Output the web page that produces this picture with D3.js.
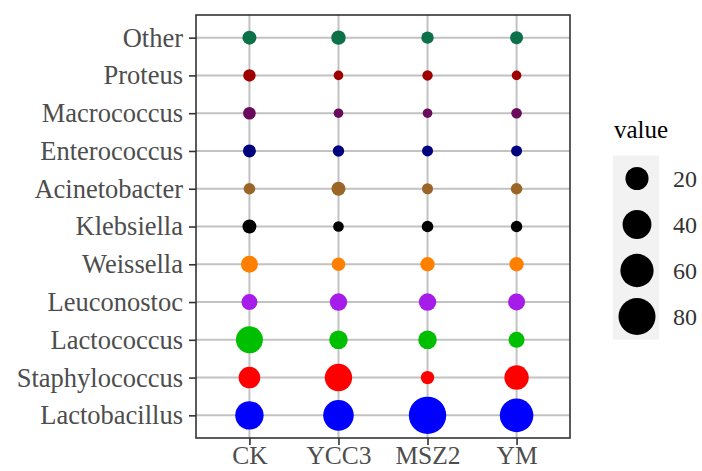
<!DOCTYPE html>
<html>
<head>
<meta charset="utf-8">
<script src="https://cdn.jsdelivr.net/npm/d3@7"></script>
<style>
  body { margin: 0; background: #fff; }
  svg text { font-family: "Liberation Serif", "Times New Roman", serif; }
</style>
</head>
<body>
<div id="chart"></div>
<script>
// genera, bottom to top
const genera = ["Lactobacillus", "Staphylococcus", "Lactococcus", "Leuconostoc", "Weissella",
  "Klebsiella", "Acinetobacter", "Enterococcus", "Macrococcus", "Proteus", "Other"];
const samples = ["CK", "YCC3", "MSZ2", "YM"];

// relative abundance (%) per sample, same order as genera
const ck   = [38.2, 15.9, 32.8, 4.8, 6.3, 2.4, 0.6, 1.5, 1.2, 1.06, 2.4];
const ycc3 = [47.4, 34.3, 9.15, 7.0, 2.0, 0.2, 2.4, 0.5, 0.02, 0.02, 2.8];
const msz2 = [82.3, 1.8, 9.15, 7.0, 2.8, 0.6, 0.35, 0.35, 0.02, 0.15, 1.06];
const ym   = [61.6, 23.9, 4.8, 6.3, 2.8, 0.5, 0.6, 0.35, 0.2, 0.02, 1.5];

const legendBreaks = [20, 40, 60, 80];

const genusColors = ["#0000FF", "#FF0000", "#00BE00", "#A61CE8", "#FF8000",
  "#000000", "#9A6526", "#00007F", "#690A5C", "#9E0000", "#0C7149"];

const width = 702, height = 471;
const panel = { left: 196, right: 570, top: 15, bottom: 438 };

const svg = d3.select("#chart").append("svg")
  .attr("width", width)
  .attr("height", height);

// scales
const x = d3.scalePoint().domain(samples).range([panel.left, panel.right]).padding(0.6);
const y = d3.scalePoint().domain(genera).range([panel.bottom, panel.top]).padding(0.6);
const r = d3.scaleSqrt().domain([0, 80]).range([4.6, 18.5]);
const color = d3.scaleOrdinal().domain(genera).range(genusColors);

// long-form table
const table = [];
[ck, ycc3, msz2, ym].forEach((vals, si) => {
  vals.forEach((v, gi) => table.push({ sample: samples[si], genus: genera[gi], value: v }));
});

// grid
svg.append("g").selectAll("line.h")
  .data(genera).enter().append("line")
  .attr("x1", panel.left).attr("x2", panel.right)
  .attr("y1", d => y(d)).attr("y2", d => y(d))
  .attr("stroke", "#c2c2c2").attr("stroke-width", 2);
svg.append("g").selectAll("line.v")
  .data(samples).enter().append("line")
  .attr("y1", panel.top).attr("y2", panel.bottom)
  .attr("x1", d => x(d)).attr("x2", d => x(d))
  .attr("stroke", "#c2c2c2").attr("stroke-width", 2);

// bubbles
svg.append("g").selectAll("circle")
  .data(table).enter().append("circle")
  .attr("cx", d => x(d.sample))
  .attr("cy", d => y(d.genus))
  .attr("r", d => r(d.value))
  .attr("fill", d => color(d.genus));

// panel border
svg.append("rect")
  .attr("x", panel.left).attr("y", panel.top)
  .attr("width", panel.right - panel.left)
  .attr("height", panel.bottom - panel.top)
  .attr("fill", "none").attr("stroke", "#333").attr("stroke-width", 1.6);

// axes
const yAxis = svg.append("g")
  .attr("transform", `translate(${panel.left},0)`)
  .call(d3.axisLeft(y).tickSize(7).tickPadding(6));
const xAxis = svg.append("g")
  .attr("transform", `translate(0,${panel.bottom})`)
  .call(d3.axisBottom(x).tickSize(7).tickPadding(1));

[yAxis, xAxis].forEach(a => {
  a.select(".domain").remove();
  a.selectAll(".tick line").attr("stroke", "#333").attr("stroke-width", 1.6);
  a.selectAll(".tick text")
    .attr("fill", "#4d4d4d")
    .style("font-size", "26.5px")
    .style("font-family", "Liberation Serif, serif");
});
xAxis.selectAll(".tick text").style("font-size", "25.5px");

// legend
const legend = svg.append("g").attr("transform", "translate(613,0)");
legend.append("text")
  .attr("x", 1).attr("y", 138)
  .attr("fill", "#000")
  .style("font-size", "25px")
  .text("value");

const keyH = 46, keyTop = 155.5;
legend.append("rect")
  .attr("x", 0).attr("y", keyTop)
  .attr("width", 46).attr("height", keyH * legendBreaks.length)
  .attr("fill", "#f2f2f2");

const keys = legend.selectAll("g.key")
  .data(legendBreaks).enter().append("g")
  .attr("transform", (d, i) => `translate(0,${keyTop + keyH * i + keyH / 2})`);
keys.append("circle")
  .attr("cx", 24).attr("cy", 0)
  .attr("r", d => r(d))
  .attr("fill", "#000");
keys.append("text")
  .attr("x", 60).attr("y", 0).attr("dy", "0.35em")
  .attr("fill", "#333")
  .style("font-size", "24px")
  .text(d => d);
</script>
</body>
</html>
